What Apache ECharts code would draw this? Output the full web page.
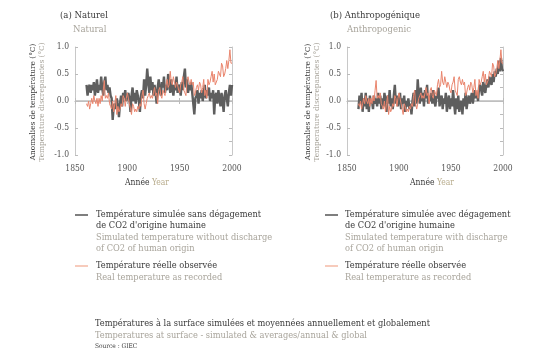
<!DOCTYPE html>
<html><head><meta charset="utf-8">
<script src="https://cdn.jsdelivr.net/npm/echarts@6/dist/echarts.min.js"></script>
<style>html,body{margin:0;padding:0;background:#fff}#c{width:550px;height:364px}</style>
</head><body><div id="c"></div>
<script>
var startYear = 1861;
var xTicks = [1850, 1900, 1950, 2000];
var yTicks = [-1.0, -0.5, 0.0, 0.5, 1.0];
var observed = [
 -0.05,-0.10,0.00,-0.15,-0.05,0.05,-0.05,0.10,0.00,-0.05,
 0.05,-0.10,0.05,-0.05,0.10,0.00,0.20,0.38,0.05,0.10,
 0.05,0.15,-0.05,-0.10,-0.15,0.00,-0.20,-0.05,0.10,-0.25,
 -0.10,-0.20,-0.15,-0.05,-0.10,0.10,0.05,-0.10,0.05,0.15,
 0.05,-0.05,-0.15,-0.25,-0.05,-0.10,-0.20,-0.15,-0.20,-0.10,
 -0.15,-0.05,-0.10,0.10,0.20,-0.05,-0.15,-0.05,0.05,0.10,
 0.15,0.05,0.10,0.05,0.15,0.25,0.10,0.15,-0.05,0.20,
 0.25,0.10,0.05,0.20,0.15,0.10,0.30,0.40,0.25,0.30,
 0.55,0.35,0.30,0.45,0.35,0.25,0.35,0.30,0.20,0.15,
 0.30,0.35,0.45,0.20,0.15,0.10,0.40,0.45,0.35,0.30,
 0.40,0.30,0.35,0.10,0.15,0.25,0.30,0.20,0.35,0.30,
 0.15,0.25,0.40,0.10,0.20,0.05,0.40,0.30,0.35,0.45,
 0.55,0.35,0.50,0.30,0.30,0.40,0.55,0.55,0.45,0.70,
 0.65,0.45,0.50,0.60,0.75,0.60,0.75,0.95,0.70,0.70
];
var simNatural = [
 0.30,0.10,0.25,0.30,0.15,0.30,0.20,0.35,0.10,0.25,
 0.40,0.15,0.30,0.20,0.45,0.25,0.10,0.35,0.45,0.20,
 0.30,0.15,0.25,0.10,0.05,-0.35,-0.10,-0.05,-0.15,0.05,
 -0.10,-0.30,-0.05,0.10,-0.10,0.15,0.05,0.20,0.00,0.10,
 0.15,0.05,-0.20,0.10,0.25,0.00,0.15,-0.05,0.20,0.10,
 0.00,-0.20,0.10,0.20,0.05,0.40,0.10,0.30,0.60,0.35,
 0.15,0.45,0.20,0.35,0.10,0.30,0.15,-0.05,0.25,0.40,
 0.20,0.10,0.35,0.25,0.45,0.15,0.30,0.20,0.50,0.35,
 0.15,0.40,0.25,0.10,0.30,0.20,0.45,0.15,0.30,0.25,
 0.10,0.35,0.20,0.45,0.60,0.25,0.40,0.15,0.30,0.20,
 0.35,0.15,-0.05,-0.25,0.05,0.10,0.20,-0.05,0.15,0.05,
 0.20,0.00,0.15,0.30,0.05,0.20,0.10,0.25,0.00,0.15,
 0.05,0.20,-0.25,0.10,0.15,-0.05,0.20,0.05,-0.10,0.15,
 0.00,-0.20,0.10,0.20,0.05,-0.10,0.15,0.30,0.10,0.30
];
var simAnthro = [
 -0.15,0.10,-0.05,0.15,-0.20,0.05,-0.10,0.15,-0.15,0.05,
 -0.20,0.10,-0.05,0.00,-0.15,0.10,-0.05,0.05,-0.10,0.15,
 -0.05,0.10,-0.15,0.05,-0.10,0.15,0.00,-0.20,0.10,-0.05,
 0.20,-0.10,0.05,-0.15,0.10,0.30,-0.05,0.10,-0.10,0.05,
 0.15,-0.15,0.05,-0.05,0.10,-0.20,0.00,-0.10,0.05,-0.15,
 -0.05,-0.25,0.00,0.15,-0.10,0.20,-0.05,0.40,0.10,-0.05,
 0.25,0.00,0.15,-0.10,0.20,0.05,0.30,-0.05,0.10,0.00,
 0.15,-0.05,0.20,0.00,-0.10,0.10,0.05,0.25,-0.10,0.05,
 0.10,-0.15,0.05,-0.05,0.15,-0.20,0.00,0.10,-0.15,0.05,
 -0.10,0.20,-0.05,-0.25,0.05,-0.15,0.10,-0.20,-0.05,0.00,
 -0.25,0.05,-0.10,0.15,-0.15,0.00,0.10,-0.05,0.05,0.15,
 -0.05,0.10,0.20,0.05,0.15,0.00,0.25,0.30,0.20,0.10,
 0.35,0.25,0.15,0.30,0.40,0.25,0.45,0.35,0.30,0.50,
 0.35,0.55,0.45,0.60,0.50,0.75,0.55,0.80,0.60,0.55
];

function pairs(arr){ return arr.map(function(v,i){ return [startYear+i, v]; }); }

var FONT = '"DejaVu Serif Condensed", "DejaVu Serif", serif';
var DARK = '#3a3a3a', GRAY = '#a8a49b', BEIGE = '#b9ad8e';
var SIM = '#5e5e5e', OBS = '#e9846c';

var grids = [
  {left:75, top:47, width:157, height:108},
  {left:347, top:47, width:156, height:108}
];

function xAx(g, pos){
  return {type:'value', gridIndex:g, position:pos, min:xTicks[0], max:xTicks[xTicks.length-1], interval:50,
    axisLine:{show:true, lineStyle:{color:'#c8c8c8'}},
    axisTick:{show:true, inside:true, length:3, lineStyle:{color:'#bbb'}},
    axisLabel:{show:pos==='bottom', margin:9, color:'#555', fontFamily:FONT, fontSize:8.5,
      formatter:function(v){ return String(v); }},
    splitLine:{show:false}};
}
function yAx(g, pos){
  return {type:'value', gridIndex:g, position:pos, min:yTicks[0], max:yTicks[yTicks.length-1], interval:0.5,
    axisLine:{show:true, lineStyle:{color:'#c8c8c8'}},
    axisTick:{show:true, inside:true, length:3, lineStyle:{color:'#bbb'}},
    minorTick:{show:pos==='right', splitNumber:2, length:3, lineStyle:{color:'#bbb'}},
    axisLabel:{show:pos==='left', margin:6, color:'#555', fontFamily:FONT, fontSize:8.5,
      formatter:function(v){ return v.toFixed(1); }},
    splitLine:{show:false}};
}

function line(xi, yi, data, color, w, z, zero){
  var s = {type:'line', xAxisIndex:xi, yAxisIndex:yi, data:pairs(data), symbol:'none',
    lineStyle:{color:color, width:w}, z:z, silent:true, animation:false};
  if(zero){ s.markLine = {silent:true, symbol:'none', label:{show:false},
    lineStyle:{color:'#bdbdbd', width:1.5, type:'solid'}, data:[{yAxis:0}], z:1}; }
  return s;
}

function txt(x, y, text, fill, size, extra){
  var st = {text:text, x:x, y:y, fill:fill, font:(size||9)+'px '+FONT, textVerticalAlign:'middle'};
  if(extra) for(var k in extra) st[k]=extra[k];
  return {type:'text', style:st, silent:true};
}
function vtxt(x, y, text, fill, size){
  return {type:'text', x:x, y:y, rotation:Math.PI/2, silent:true,
    style:{text:text, x:0, y:0, fill:fill, font:size+'px '+FONT, textAlign:'center', textVerticalAlign:'middle'}};
}
function seg(x1,y,x2,color,w){
  return {type:'line', shape:{x1:x1,y1:y,x2:x2,y2:y}, style:{stroke:color, lineWidth:w}, silent:true};
}

var T = 9.2;
var graphic = [
  txt(60,16,'(a) Naturel',DARK,9.5), txt(73,30,'Natural',GRAY,9.5),
  txt(330,16,'(b) Anthropogénique',DARK,9.5), txt(347,30,'Anthropogenic',GRAY,9.5),
  vtxt(33,102,'Anomalies de température (°C)',DARK,8.2),
  vtxt(42,102,'Temperature discrepancies (°C)',GRAY,8.2),
  vtxt(308,102,'Anomalies de température (°C)',DARK,8.2),
  vtxt(317,102,'Temperature discrepancies (°C)',GRAY,8.2),
  {type:'text', silent:true, style:{x:147, y:183, textAlign:'center', textVerticalAlign:'middle', font:'8.5px '+FONT,
    text:'{a|Année} {b|Year}', rich:{a:{fill:DARK, font:'8.5px '+FONT}, b:{fill:BEIGE, font:'8.5px '+FONT}}}},
  {type:'text', silent:true, style:{x:432, y:183, textAlign:'center', textVerticalAlign:'middle', font:'8.5px '+FONT,
    text:'{a|Année} {b|Year}', rich:{a:{fill:DARK, font:'8.5px '+FONT}, b:{fill:BEIGE, font:'8.5px '+FONT}}}},
  seg(75,215,88,'#555',1.5), seg(75,266,88,'#f2a88f',1.2),
  txt(96,215,'Température simulée sans dégagement',DARK,T),
  txt(96,226,'de CO2 d\'origine humaine',DARK,T),
  txt(96,238,'Simulated temperature without discharge',GRAY,T),
  txt(96,249,'of CO2 of human origin',GRAY,T),
  txt(96,266,'Température réelle observée',DARK,T),
  txt(96,278,'Real temperature as recorded',GRAY,T),
  seg(325,215,338,'#555',1.5), seg(325,266,338,'#f2a88f',1.2),
  txt(345,215,'Température simulée avec dégagement',DARK,T),
  txt(345,226,'de CO2 d\'origine humaine',DARK,T),
  txt(345,238,'Simulated temperature with discharge',GRAY,T),
  txt(345,249,'of CO2 of human origin',GRAY,T),
  txt(345,266,'Température réelle observée',DARK,T),
  txt(345,278,'Real temperature as recorded',GRAY,T),
  txt(95,324,'Températures à la surface simulées et moyennées annuellement et globalement',DARK,T),
  txt(95,336,'Temperatures at surface - simulated & averages/annual & global',GRAY,T),
  txt(95,346,'Source : GIEC',DARK,6.5)
];

var chart = echarts.init(document.getElementById('c'), null, {renderer:'canvas'});
chart.setOption({
  animation:false,
  grid:grids,
  xAxis:[xAx(0,'bottom'), xAx(0,'top'), xAx(1,'bottom'), xAx(1,'top')],
  yAxis:[yAx(0,'left'), yAx(0,'right'), yAx(1,'left'), yAx(1,'right')],
  series:[
    line(0,0,simNatural,SIM,2.4,3,true),
    line(0,0,observed,OBS,1,4,false),
    line(2,2,simAnthro,SIM,2.4,3,true),
    line(2,2,observed,OBS,1,4,false)
  ],
  graphic:graphic
});
</script></body></html>
